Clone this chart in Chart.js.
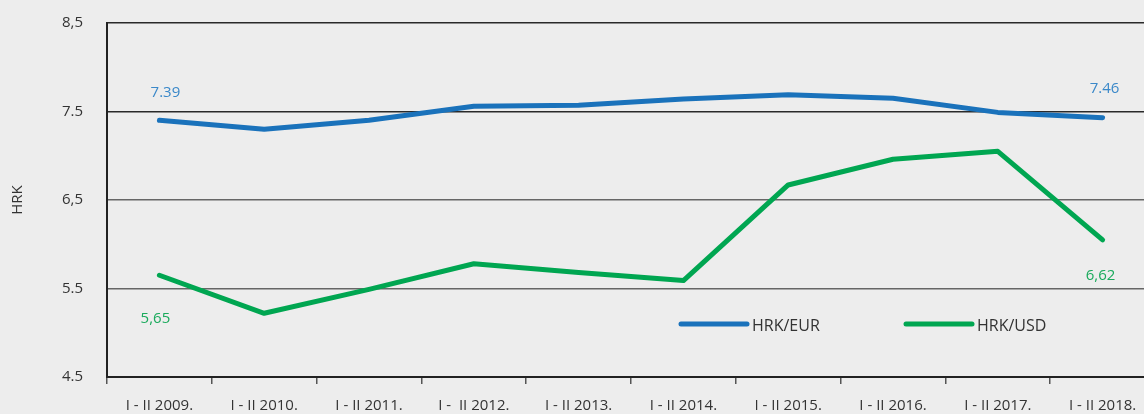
<!DOCTYPE html>
<html>
<head>
<meta charset="utf-8">
<script src="https://cdn.jsdelivr.net/npm/chart.js@4/dist/chart.umd.min.js"></script>
<style>
  html, body { margin: 0; padding: 0; background: #ededed; overflow: hidden; }
  #wrap { position: relative; width: 1155px; height: 414px; }
</style>
</head>
<body>
<div id="wrap"><canvas id="chart"></canvas></div>
<script>
// ---- dados ----
const categories = ['I - II 2009.', 'I - II 2010.', 'I - II 2011.', 'I -  II 2012.', 'I - II 2013.',
  'I - II 2014.', 'I - II 2015.', 'I - II 2016.', 'I - II 2017.', 'I - II 2018.'];
const eurValues = [7.40, 7.30, 7.40, 7.56, 7.57, 7.64, 7.69, 7.65, 7.49, 7.43];
const usdValues = [5.65, 5.22, 5.49, 5.78, 5.68, 5.59, 6.67, 6.96, 7.05, 6.05];
const yTicks = [4.5, 5.5, 6.5, 7.5, 8.5];
const yTickLabels = ['4.5', '5.5', '6,5', '7.5', '8,5'];
const eurEndLabels = ['7.39', '7.46'];
const usdEndLabels = ['5,65', '6,62'];
const seriesNames = ['HRK/EUR', 'HRK/USD'];

const BLUE = '#1a72bb';
const GREEN = '#00a651';
const FONT = '"Open Sans", "Noto Sans", sans-serif';

// rótulos nas pontas + legenda dentro da área
const overlay = {
  id: 'overlay',
  afterDatasetsDraw(chart) {
    const ctx = chart.ctx;
    ctx.save();
    ctx.font = '15px ' + FONT;
    ctx.textAlign = 'center';
    ctx.textBaseline = 'middle';

    const eur = chart.getDatasetMeta(0).data;
    const usd = chart.getDatasetMeta(1).data;
    const last = eur.length - 1;

    ctx.fillStyle = '#3a88c9';
    ctx.fillText(eurEndLabels[0], eur[0].x + 6, eur[0].y - 28);
    ctx.fillText(eurEndLabels[1], eur[last].x + 2, eur[last].y - 29);

    ctx.fillStyle = '#1aaa5c';
    ctx.fillText(usdEndLabels[0], usd[0].x - 4, usd[0].y + 44);
    ctx.fillText(usdEndLabels[1], usd[last].x - 2, usd[last].y + 36);

    // legenda
    const items = [{ x: 681, color: BLUE }, { x: 906, color: GREEN }];
    ctx.lineCap = 'round';
    ctx.lineWidth = 5;
    ctx.textAlign = 'left';
    ctx.font = '16px ' + FONT;
    items.forEach((it, i) => {
      ctx.strokeStyle = it.color;
      ctx.beginPath();
      ctx.moveTo(it.x, 324);
      ctx.lineTo(it.x + 66, 324);
      ctx.stroke();
      ctx.fillStyle = '#333';
      ctx.fillText(seriesNames[i], it.x + 71, 326);
    });
    ctx.restore();
  }
};

new Chart(document.getElementById('chart'), {
  type: 'line',
  data: {
    labels: categories,
    datasets: [
      { label: seriesNames[0], data: eurValues, borderColor: BLUE, borderWidth: 5, pointRadius: 0, tension: 0, borderCapStyle: 'round', borderJoinStyle: 'round' },
      { label: seriesNames[1], data: usdValues, borderColor: GREEN, borderWidth: 5, pointRadius: 0, tension: 0, borderCapStyle: 'round', borderJoinStyle: 'round' }
    ]
  },
  options: {
    responsive: true,
    maintainAspectRatio: false,
    animation: false,
    layout: { padding: { top: 23, left: 0, right: 0, bottom: 0 } },
    plugins: { legend: { display: false }, tooltip: { enabled: false } },
    scales: {
      x: {
        offset: true,
        grid: { display: true, offset: true, drawOnChartArea: false, drawTicks: true, tickLength: 7, color: '#555', lineWidth: 1.5 },
        border: { display: true, color: '#222', width: 2 },
        ticks: { color: '#333', font: { family: FONT, size: 15 }, padding: 13, maxRotation: 0, autoSkip: false },
        afterFit(scale) { scale.height = 37; }
      },
      y: {
        min: 4.5,
        max: 8.5,
        afterBuildTicks(scale) { scale.ticks = yTicks.map(v => ({ value: v })); },
        grid: {
          drawTicks: false,
          color: ctx => (ctx.tick && (ctx.tick.value === 7.5 || ctx.tick.value === 8.5)) ? '#2a2a2a' : '#666',
          lineWidth: 1.5
        },
        border: { display: true, color: '#222', width: 2 },
        ticks: {
          color: '#333',
          font: { family: FONT, size: 15 },
          padding: 24,
          callback: (v) => yTickLabels[yTicks.indexOf(v)]
        },
        title: { display: true, text: 'HRK', color: '#333', font: { family: FONT, size: 15 }, padding: { top: 9, bottom: 0 } },
        afterFit(scale) {
          scale.width = 107;
          scale.paddingTop = 10;
          scale.paddingBottom = 10;
        }
      }
    }
  },
  plugins: [overlay]
});
</script>
</body>
</html>
